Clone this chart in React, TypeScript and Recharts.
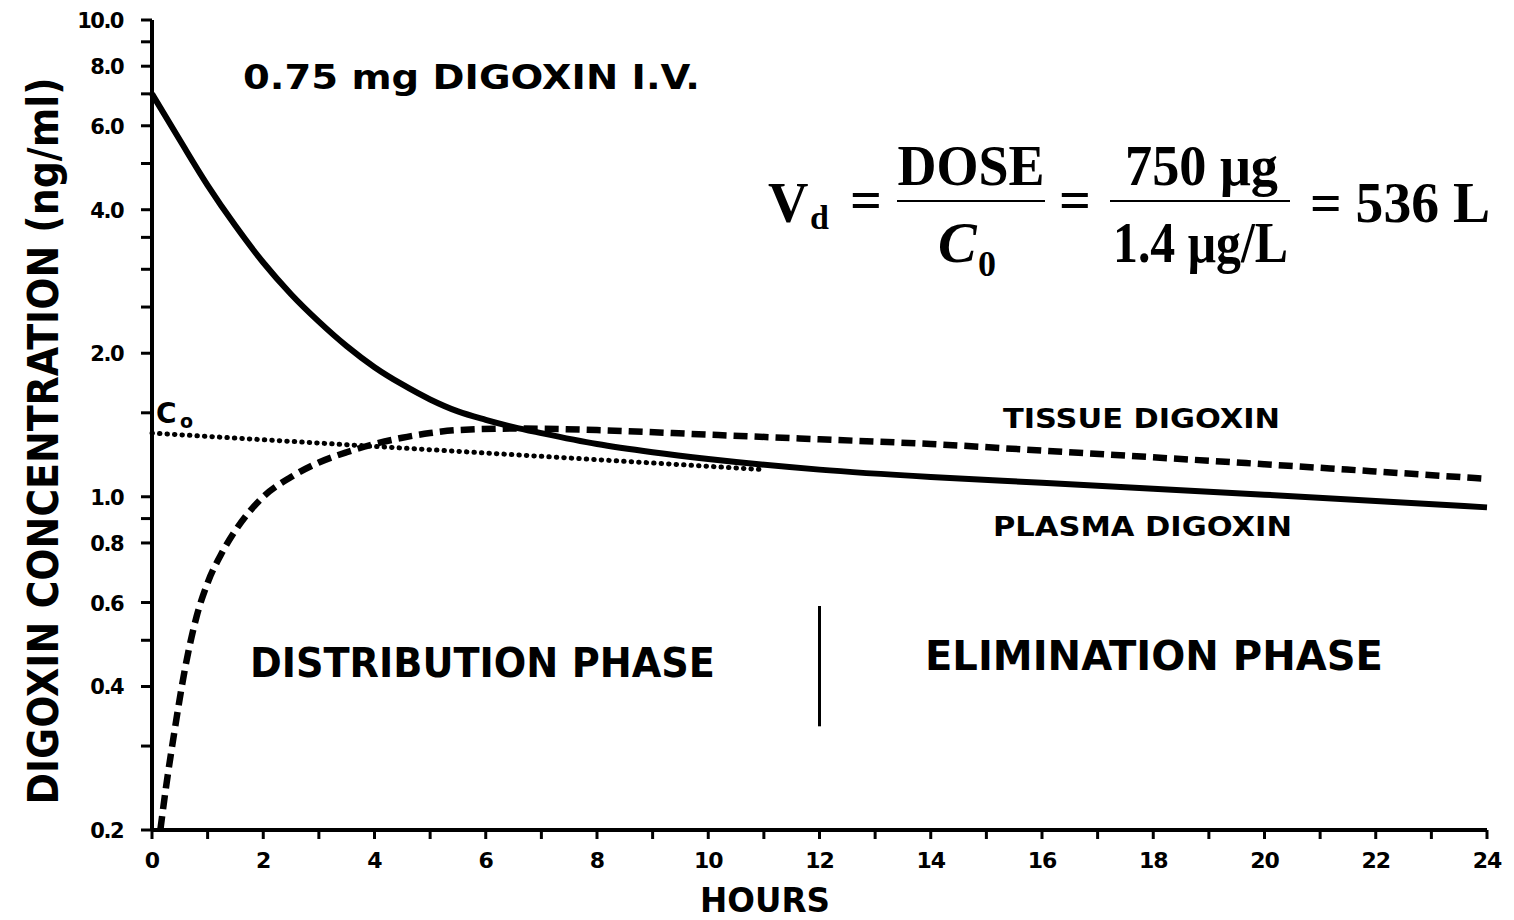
import { LineChart, Line, XAxis, YAxis, ReferenceLine, Customized } from 'recharts';

// axis ticks
const hourTicks = [0, 1, 2, 3, 4, 5, 6, 7, 8, 9, 10, 11, 12, 13, 14, 15, 16, 17, 18, 19, 20, 21, 22, 23, 24];
const hourLabels = [0, 2, 4, 6, 8, 10, 12, 14, 16, 18, 20, 22, 24];
const concTicks = [0.2, 0.3, 0.4, 0.5, 0.6, 0.8, 0.9, 1, 1.5, 2, 2.5, 3, 3.5, 4, 5, 6, 7, 8, 9, 10];
const concLabels = [0.2, 0.4, 0.6, 0.8, 1, 2, 4, 6, 8, 10];

// plasma digoxin (solid)
const plasmaHours = [0, 0.5, 1, 1.5, 2, 2.5, 3, 3.5, 4, 4.5, 5, 5.5, 6, 6.5, 7, 8, 9, 10, 12, 14, 16, 18, 20, 22, 24];
const plasmaConc = [7.0, 5.6, 4.5, 3.7, 3.1, 2.66, 2.33, 2.07, 1.87, 1.72, 1.6, 1.51, 1.45, 1.4, 1.36, 1.29, 1.24, 1.2, 1.14, 1.1, 1.07, 1.04, 1.01, 0.98, 0.95];

// tissue digoxin (dashed)
const tissueHours = [0.15, 0.25, 0.4, 0.6, 0.8, 1, 1.25, 1.5, 2, 2.5, 3, 3.5, 4, 4.5, 5, 5.5, 6.5, 8, 10, 12, 14, 16, 18, 20, 22, 24];
const tissueConc = [0.2, 0.245, 0.32, 0.44, 0.56, 0.66, 0.76, 0.85, 1.0, 1.1, 1.18, 1.24, 1.29, 1.33, 1.36, 1.38, 1.39, 1.38, 1.35, 1.32, 1.29, 1.25, 1.21, 1.17, 1.13, 1.09];

// back-extrapolated elimination line to C0 (dotted)
const extrapHours = [0, 11];
const extrapConc = [1.36, 1.14];

const zip = (ts: number[], vs: number[]) => ts.map((t, i) => ({ t, v: vs[i] }));
const plasma = zip(plasmaHours, plasmaConc);
const tissue = zip(tissueHours, tissueConc);
const extrap = zip(extrapHours, extrapConc);

const GOTHIC = '"DejaVu Sans", Verdana, sans-serif';
const SERIF = '"Liberation Serif", "Times New Roman", serif';

const HourTick = (props: any) => {
	const { x, y, payload } = props;
	if (!hourLabels.includes(payload.value)) return null;
	return (
		<text x={x} y={y + 25} textAnchor='middle' fontFamily={GOTHIC} fontWeight='bold' fontSize={22} fill='#000' letterSpacing={-1}>
			{payload.value}
		</text>
	);
};

const ConcTick = (props: any) => {
	const { x, y, payload } = props;
	if (!concLabels.includes(payload.value)) return null;
	return (
		<text x={x} y={y + 8} textAnchor='end' fontFamily={GOTHIC} fontWeight='bold' fontSize={21} fill='#000' letterSpacing={-1.5}>
			{payload.value.toFixed(1)}
		</text>
	);
};

// titles, phase labels and the Vd formula
const Notes = () => (
	<g fill='#000'>
		<text x={243} y={89} fontFamily={GOTHIC} fontWeight='bold' fontSize={33} textLength={457} lengthAdjust='spacingAndGlyphs'>
			0.75 mg DIGOXIN I.V.
		</text>
		<text transform='translate(58,441) rotate(-90)' textAnchor='middle' fontFamily={GOTHIC} fontWeight='bold' fontSize={42} textLength={727} lengthAdjust='spacingAndGlyphs'>
			DIGOXIN CONCENTRATION (ng/ml)
		</text>
		<text x={700} y={912} fontFamily={GOTHIC} fontWeight='bold' fontSize={33} textLength={130} lengthAdjust='spacingAndGlyphs'>
			HOURS
		</text>
		<text x={156} y={423} fontFamily={GOTHIC} fontWeight='bold' fontSize={28}>C</text>
		<text x={180} y={428} fontFamily={GOTHIC} fontWeight='bold' fontSize={19}>o</text>
		<text x={1003} y={428} fontFamily={GOTHIC} fontWeight='bold' fontSize={27} textLength={277} lengthAdjust='spacingAndGlyphs'>
			TISSUE DIGOXIN
		</text>
		<text x={993} y={536} fontFamily={GOTHIC} fontWeight='bold' fontSize={27} textLength={299} lengthAdjust='spacingAndGlyphs'>
			PLASMA DIGOXIN
		</text>
		<text x={250} y={677} fontFamily={GOTHIC} fontWeight='bold' fontSize={41} textLength={465} lengthAdjust='spacingAndGlyphs'>
			DISTRIBUTION PHASE
		</text>
		<text x={925} y={670} fontFamily={GOTHIC} fontWeight='bold' fontSize={41} textLength={458} lengthAdjust='spacingAndGlyphs'>
			ELIMINATION PHASE
		</text>

		<g fontFamily={SERIF} fontWeight='bold'>
			<text x={768} y={222} fontSize={56}>V</text>
			<text x={810} y={229} fontSize={34}>d</text>
			<text x={866} y={219} fontSize={56} textAnchor='middle'>=</text>
			<text x={971} y={185} fontSize={58} textAnchor='middle' textLength={147} lengthAdjust='spacingAndGlyphs'>DOSE</text>
			<line x1={897} x2={1045} y1={201} y2={201} stroke='#000' strokeWidth={2} />
			<text x={938} y={262} fontSize={58} fontStyle='italic'>C</text>
			<text x={978} y={276} fontSize={36}>0</text>
			<text x={1075} y={219} fontSize={56} textAnchor='middle'>=</text>
			<text x={1125} y={185} fontSize={58} textLength={153} lengthAdjust='spacingAndGlyphs'>750 μg</text>
			<line x1={1110} x2={1290} y1={201} y2={201} stroke='#000' strokeWidth={2} />
			<text x={1113} y={262} fontSize={58} textLength={175} lengthAdjust='spacingAndGlyphs'>1.4 μg/L</text>
			<text x={1310} y={222} fontSize={58} textLength={180} lengthAdjust='spacingAndGlyphs'>= 536 L</text>
		</g>
	</g>
);

export default function App() {
	return (
		<div style={{ position: 'absolute', left: 0, top: 0, width: 1514, height: 920, background: '#fff' }}>
			<LineChart width={1514} height={920} margin={{ top: 20, right: 27, bottom: 30, left: 0 }}>
				<XAxis
					dataKey='t'
					type='number'
					domain={[0, 24]}
					ticks={hourTicks}
					interval={0}
					height={60}
					tickSize={9}
					tickMargin={4}
					axisLine={{ stroke: '#000', strokeWidth: 4 }}
					tickLine={{ stroke: '#000', strokeWidth: 3 }}
					tick={<HourTick />}
				/>
				<YAxis
					type='number'
					scale='log'
					domain={[0.2, 10]}
					allowDataOverflow
					ticks={concTicks}
					interval={0}
					width={152}
					tickSize={11}
					tickMargin={18}
					axisLine={{ stroke: '#000', strokeWidth: 4 }}
					tickLine={{ stroke: '#000', strokeWidth: 3 }}
					tick={<ConcTick />}
				/>
				<Line data={extrap} dataKey='v' type='linear' stroke='#000' strokeWidth={5} strokeDasharray='0.5 7' strokeLinecap='round' dot={false} isAnimationActive={false} />
				<Line data={tissue} dataKey='v' type='monotone' stroke='#000' strokeWidth={6.5} strokeDasharray='14 7' dot={false} isAnimationActive={false} />
				<Line data={plasma} dataKey='v' type='monotone' stroke='#000' strokeWidth={6} dot={false} isAnimationActive={false} />
				<ReferenceLine segment={[{ x: 12, y: 0.33 }, { x: 12, y: 0.59 }]} stroke='#000' strokeWidth={3} />
				<Customized component={Notes} />
			</LineChart>
		</div>
	);
}
